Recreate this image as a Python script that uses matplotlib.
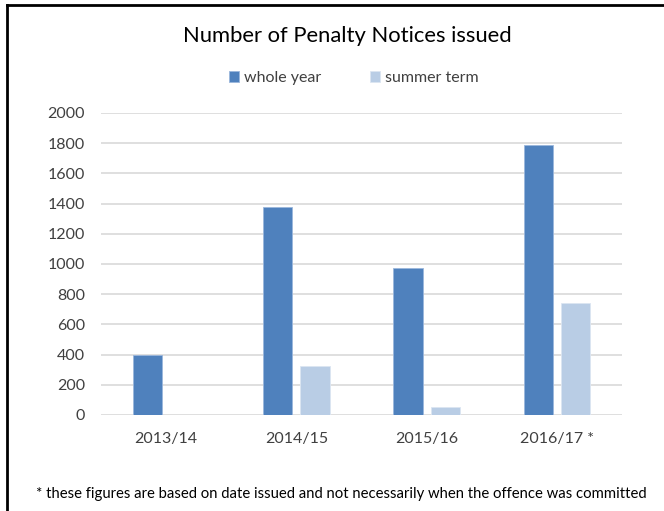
import numpy as np
import matplotlib
matplotlib.use('Agg')
import matplotlib.pyplot as plt
from matplotlib.lines import Line2D

# data
categories = ['2013/14', '2014/15', '2015/16', '2016/17 *']
whole_year = [400, 1375, 975, 1790]
summer_term = [0, 325, 50, 740]
y_ticks = list(range(0, 2001, 200))

plt.rcParams['font.family'] = ['Lato', 'DejaVu Sans']

fig = plt.figure(figsize=(6.64, 5.11), dpi=100)
ax = fig.add_axes([0.152, 0.188, 0.785, 0.591])

x = np.arange(len(categories))
w = 0.225
ax.bar(x - 0.03 - w / 2, whole_year, w, color='#4f81bd', edgecolor='#9bb7dc', linewidth=0.6,
       label='whole year', zorder=3)
ax.bar(x + 0.03 + w / 2, summer_term, w, color='#b9cde5', edgecolor='#dce6f2', linewidth=0.6,
       label='summer term', zorder=3)

ax.set_xlim(-0.5, len(categories) - 0.5)
ax.set_ylim(0, 2000)
ax.set_yticks(y_ticks)
ax.set_xticks(x)
ax.set_xticklabels(categories)
ax.grid(axis='y', color='#d9d9d9', linewidth=1.2, zorder=0)
for s in ax.spines.values():
    s.set_visible(False)
ax.tick_params(length=0, labelsize=11.5, colors='#404040')
ax.tick_params(axis='y', pad=11.5)
ax.tick_params(axis='x', pad=12)

fig.text(0.523, 0.929, 'Number of Penalty Notices issued', ha='center', va='center',
         fontsize=15.8, color='#000000')
ax.legend(loc='center', bbox_to_anchor=(0.485, 1.115), ncol=2, frameon=False,
          fontsize=11.5, handlelength=0.6, handleheight=0.6, columnspacing=3.1,
          handletextpad=0.3, labelcolor='#404040')

fig.text(0.054, 0.033, '* these figures are based on date issued and not necessarily when the offence was committed',
         ha='left', va='center', fontsize=10.75, color='#000000')

# border lines (left and top)
fig.add_artist(Line2D([0.011, 0.011], [0, 0.991], color='black', linewidth=2, transform=fig.transFigure))
fig.add_artist(Line2D([0.011, 1], [0.991, 0.991], color='black', linewidth=2, transform=fig.transFigure))

fig.savefig('out.png', dpi=100)
